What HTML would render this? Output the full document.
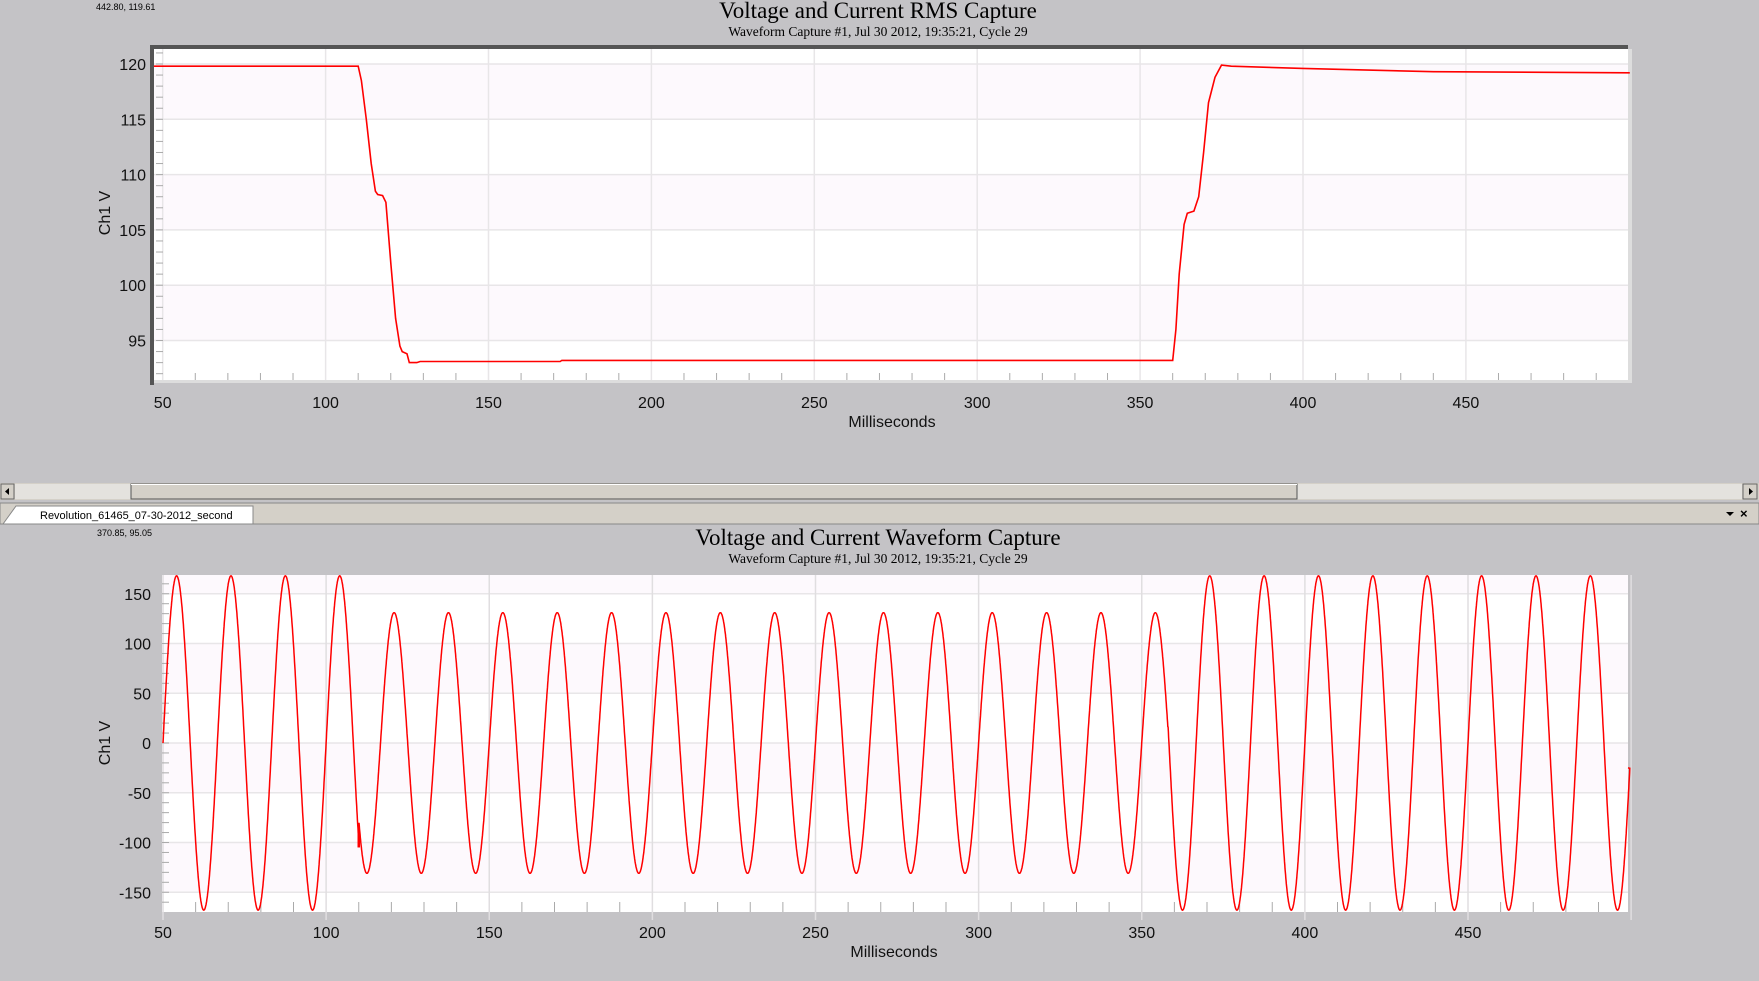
<!DOCTYPE html>
<html><head><meta charset="utf-8">
<style>
html,body{margin:0;padding:0;background:#c4c3c6;width:1759px;height:981px;overflow:hidden;font-family:"Liberation Sans",sans-serif}
svg{position:absolute;left:0;top:0}
</style></head>
<body>
<svg id="s" width="1759" height="981" xmlns="http://www.w3.org/2000/svg">
<rect width="1759" height="981" fill="#c4c3c6"/>
<text x="96" y="10" font-size="9" fill="#000">442.80, 119.61</text>
<text x="878" y="18" font-size="23" font-family="Liberation Serif" text-anchor="middle">Voltage and Current RMS Capture</text>
<text x="878" y="36" font-size="13.5" font-family="Liberation Serif" text-anchor="middle">Waveform Capture #1, Jul 30 2012, 19:35:21,  Cycle 29</text>
<g id="top"></g>
<g id="bot"></g>
<rect x="0" y="483" width="1759" height="17" fill="#d4d0c8"/>
<rect x="15" y="484" width="116" height="15" fill="#e4e2de"/>
<rect x="1297" y="484" width="445" height="15" fill="#e4e2de"/>
<rect x="131" y="484" width="1166" height="15" fill="#d4d0c8" stroke="#555" stroke-width="1"/>
<line x1="131" y1="484.5" x2="1297" y2="484.5" stroke="#fff"/>
<rect x="1" y="484" width="13" height="15" fill="#d4d0c8" stroke="#666"/>
<path d="M5 491.5 L9 488 L9 495 Z" fill="#000"/>
<rect x="1743" y="484" width="14" height="15" fill="#d4d0c8" stroke="#666"/>
<path d="M1753 491.5 L1749 488 L1749 495 Z" fill="#000"/>
<rect x="0" y="503" width="1759" height="21" fill="#d4d0c8" stroke="#888"/>
<path d="M3 524 L16 506 L253 506 L253 524 Z" fill="#fff" stroke="#888"/>
<text x="40" y="519" font-size="11">Revolution_61465_07-30-2012_second</text>
<path d="M1726 512 L1734 512 L1730 516 Z" fill="#000"/>
<text x="1740" y="518" font-size="13" font-weight="bold">×</text>
<text x="97" y="536" font-size="9">370.85, 95.05</text>
<text x="878" y="545" font-size="23" font-family="Liberation Serif" text-anchor="middle">Voltage and Current Waveform Capture</text>
<text x="878" y="563" font-size="13.5" font-family="Liberation Serif" text-anchor="middle">Waveform Capture #1, Jul 30 2012, 19:35:21,  Cycle 29</text>
</svg>
<script>
var NS="http://www.w3.org/2000/svg";
function el(p,n,a,t){var e=document.createElementNS(NS,n);for(var k in a)e.setAttribute(k,a[k]);if(t!==undefined)e.textContent=t;p.appendChild(e);return e;}
(function(){
var g=document.getElementById('top');
var L=154,T=49,R=1628,B=383;
var X=function(t){return 162.7+(t-50)*3.258;};
var Y=function(v){return 64+(120-v)*11.06;};
el(g,'rect',{x:L,y:T,width:R-L,height:B-T,fill:'#fff'});
[115,105,95].forEach(function(v){el(g,'rect',{x:L,y:Y(v+5),width:R-L,height:Y(v)-Y(v+5),fill:'#fdf9fd'});});
for(var v=95;v<=120;v+=5)el(g,'line',{x1:L,x2:R,y1:Y(v),y2:Y(v),stroke:'#e8e6e8','stroke-width':1.5});
for(var t=50;t<=500;t+=50)el(g,'line',{x1:X(t),x2:X(t),y1:T,y2:B,stroke:'#e8e6e8','stroke-width':1.5});
for(var t=60;t<=500;t+=10)if(t%50)el(g,'line',{x1:X(t),x2:X(t),y1:B-10,y2:B,stroke:'#aaa'});
for(var v=92;v<=121;v++)el(g,'line',{x1:L+2,x2:L+9,y1:Y(v),y2:Y(v),stroke:'#aaa'});
el(g,'rect',{x:L,y:B-3,width:R-L,height:3,fill:'#ddd'});
el(g,'rect',{x:R,y:T,width:4,height:B-T,fill:'#ddd'});
el(g,'rect',{x:L-4,y:45,width:R-L+4,height:4,fill:'#555'});
el(g,'rect',{x:L-4,y:45,width:4,height:B-45+2,fill:'#555'});
for(var v=95;v<=120;v+=5)el(g,'text',{x:146,y:Y(v)+6,'font-size':16,'text-anchor':'end',fill:'#111'},v);
for(var t=50;t<=450;t+=50)el(g,'text',{x:X(t),y:408,'font-size':16,'text-anchor':'middle',fill:'#111'},t);
el(g,'text',{x:892,y:427,'font-size':16,'text-anchor':'middle',fill:'#111'},'Milliseconds');
el(g,'text',{x:0,y:0,'font-size':16,'text-anchor':'middle',fill:'#111',transform:'translate(110,213) rotate(-90)'},'Ch1 V');
var pts=[[47.3,119.8],[110,119.8],[111,118.5],[112.5,115],[114,111],[115.3,108.5],[116,108.2],[117.5,108.1],[118.5,107.5],[120,102],[121.5,97],[122.8,94.5],[123.5,94],[125,93.8],[125.7,93],[128,93],[129,93.1],[172,93.1],[172.5,93.2],[360,93.2],[361,96],[362,101],[363.5,105.5],[364.5,106.5],[366.5,106.7],[368,108],[369.5,112],[371,116.5],[373,118.8],[375,119.9],[378,119.8],[400,119.6],[440,119.3],[500.3,119.2]];
var d=pts.map(function(p,i){return (i?'L':'M')+X(p[0]).toFixed(1)+' '+Y(p[1]).toFixed(1);}).join(' ');
el(g,'path',{d:d,fill:'none',stroke:'#f00','stroke-width':1.6});
})();
(function(){
var g=document.getElementById('bot');
var L=162,T=575,R=1628,B=912;
var X=function(t){return 163+(t-50)*3.2625;};
var Y=function(v){return 743-v*0.995;};
el(g,'rect',{x:L,y:T,width:R-L,height:B-T,fill:'#fff'});
el(g,'rect',{x:L,y:T,width:R-L,height:Y(150)-T,fill:'#fdf9fd'});
[50,-50,-150].forEach(function(v){el(g,'rect',{x:L,y:Y(v+50),width:R-L,height:Y(v)-Y(v+50),fill:'#fdf9fd'});});
for(var v=-150;v<=150;v+=50)el(g,'line',{x1:L,x2:R,y1:Y(v),y2:Y(v),stroke:'#e8e6e8','stroke-width':1.5});
for(var t=50;t<=500;t+=50)el(g,'line',{x1:X(t),x2:X(t),y1:T,y2:B+8,stroke:'#e0dee0','stroke-width':1.5});
for(var t=60;t<=500;t+=10)if(t%50)el(g,'line',{x1:X(t),x2:X(t),y1:B-10,y2:B,stroke:'#aaa'});
for(var v=-160;v<=160;v+=10)el(g,'line',{x1:L,x2:L+7,y1:Y(v),y2:Y(v),stroke:'#aaa'});
for(var v=-150;v<=150;v+=50)el(g,'text',{x:151,y:Y(v)+6,'font-size':16,'text-anchor':'end',fill:'#111'},v);
for(var t=50;t<=450;t+=50)el(g,'text',{x:X(t),y:938,'font-size':16,'text-anchor':'middle',fill:'#111'},t);
el(g,'text',{x:894,y:957,'font-size':16,'text-anchor':'middle',fill:'#111'},'Milliseconds');
el(g,'text',{x:0,y:0,'font-size':16,'text-anchor':'middle',fill:'#111',transform:'translate(110,743) rotate(-90)'},'Ch1 V');
var d='';var first=true;
for(var t=50;t<=499.6;t+=0.08){var A=(t<110)?168:(t<358?131:168);
 var v=A*Math.sin(2*Math.PI*(t-50)/16.6667);
 d+=(first?'M':'L')+X(t).toFixed(1)+' '+Y(v).toFixed(1)+' ';first=false;}
d+='L'+R+' '+Y(-25);
el(g,'path',{d:d,fill:'none',stroke:'#f00','stroke-width':1.5});
el(g,'line',{x1:X(110),x2:X(110),y1:Y(-90),y2:Y(-105),stroke:'#f00','stroke-width':2.5});
})();
</script>
</body></html>
